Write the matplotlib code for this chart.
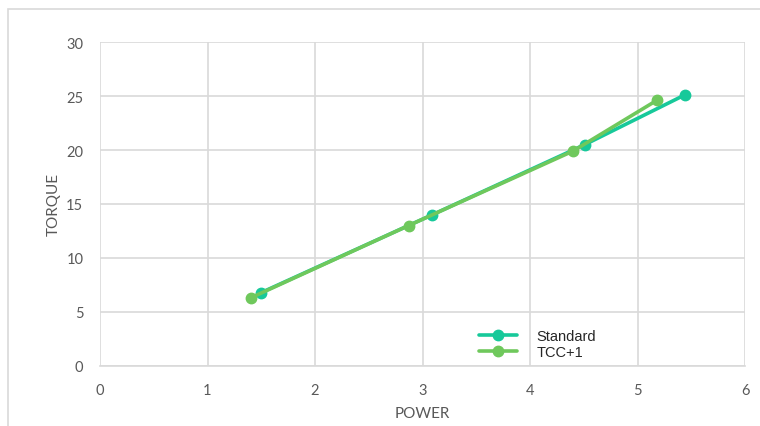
import matplotlib
matplotlib.use("Agg")
import matplotlib.pyplot as plt
from matplotlib.patches import Rectangle

# Series data
standard_power = [1.50, 3.09, 4.51, 5.44]
standard_torque = [6.8, 14.0, 20.5, 25.1]
tcc_power = [1.40, 2.87, 4.40, 5.18]
tcc_torque = [6.3, 13.0, 19.9, 24.6]

x_ticks = [0, 1, 2, 3, 4, 5, 6]
y_ticks = [0, 5, 10, 15, 20, 25, 30]

W, H = 760, 427
fig = plt.figure(figsize=(W / 100, H / 100), dpi=100)

# outer chart frame
fig.patches.append(Rectangle((8 / W, -0.05), 1.1, (H - 10) / H + 0.05,
                             transform=fig.transFigure, fill=False,
                             edgecolor="#d9d9d9", linewidth=1.2))

ax = fig.add_axes([100 / W, (H - 367) / H, 645 / W, 324 / H])

ax.plot(standard_power, standard_torque, color="#17c99a", linewidth=2.6,
        marker="o", markersize=7.5, label="Standard", zorder=3,
        solid_capstyle="round")
ax.plot(tcc_power, tcc_torque, color="#6fc85c", linewidth=2.6,
        marker="o", markersize=7.5, label="TCC+1", zorder=4,
        solid_capstyle="round")

ax.set_xlim(0, 6)
ax.set_ylim(0, 30)
ax.set_xticks(x_ticks)
ax.set_yticks(y_ticks)
ax.grid(True, color="#d9d9d9", linewidth=1.2)
ax.set_axisbelow(True)
for s in ax.spines.values():
    s.set_visible(False)
ax.spines["bottom"].set_visible(True)
ax.spines["bottom"].set_color("#d9d9d9")
ax.spines["bottom"].set_linewidth(1.2)
ax.tick_params(length=0, pad=12, labelsize=10.5, labelcolor="#595959")
for lbl in ax.get_xticklabels() + ax.get_yticklabels():
    lbl.set_family("Lato")

ax.set_xlabel("POWER", fontsize=11, color="#595959", family="Lato", labelpad=7)
ax.set_ylabel("TORQUE", fontsize=11, color="#595959", family="Lato", labelpad=4)

leg = fig.legend(loc="center left", bbox_to_anchor=(472 / W, 1 - 345 / H),
                 frameon=False, fontsize=10.5, handlelength=2.6,
                 handletextpad=1.3, labelspacing=0.15, borderpad=0,
                 prop={"family": "Liberation Sans", "size": 10.5})
for t in leg.get_texts():
    t.set_color("#262626")

fig.savefig("out.png", dpi=100, facecolor="white")
